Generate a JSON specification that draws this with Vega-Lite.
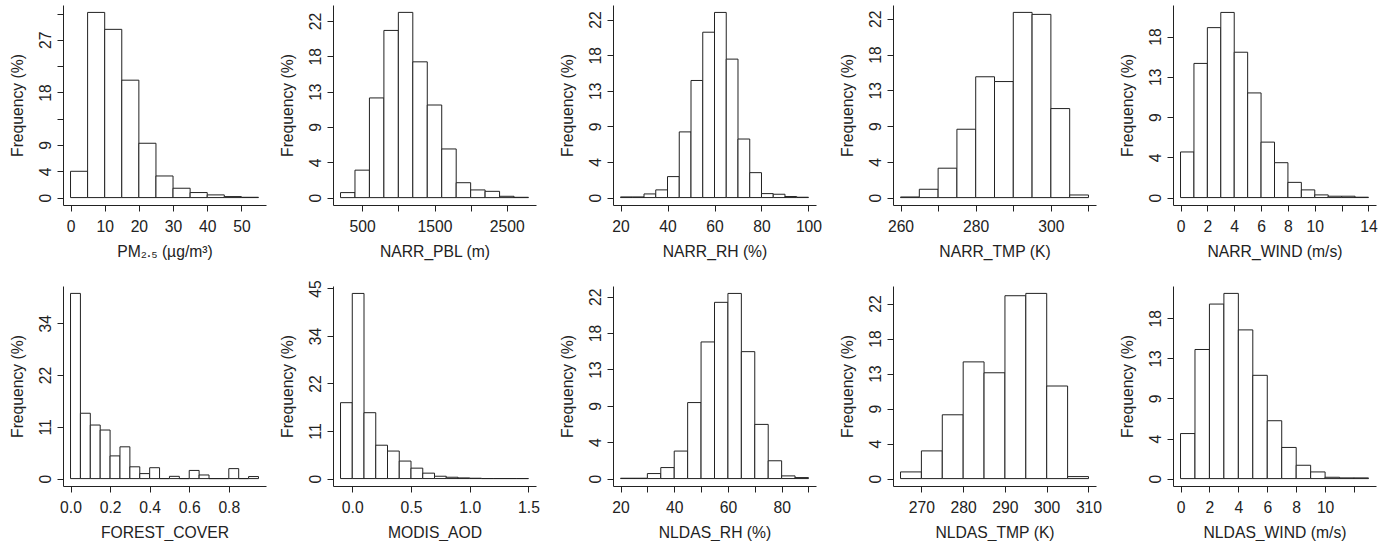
{
  "$schema": "https://vega.github.io/schema/vega-lite/v6.json",
  "background": "white",
  "padding": {"left": 9, "top": 5, "right": 5, "bottom": 0},
  "autosize": {"type": "pad"},
  "data": {"values": [
    {"v":"pm","lo":0,"hi":5,"pct":4.5},{"v":"pm","lo":5,"hi":10,"pct":31.7},{"v":"pm","lo":10,"hi":15,"pct":28.8},{"v":"pm","lo":15,"hi":20,"pct":20.1},{"v":"pm","lo":20,"hi":25,"pct":9.3},{"v":"pm","lo":25,"hi":30,"pct":3.7},{"v":"pm","lo":30,"hi":35,"pct":1.6},{"v":"pm","lo":35,"hi":40,"pct":0.86},{"v":"pm","lo":40,"hi":45,"pct":0.46},{"v":"pm","lo":45,"hi":50,"pct":0.17},{"v":"pm","lo":50,"hi":55,"pct":0.05},
    {"v":"pbl","lo":200,"hi":400,"pct":0.64},{"v":"pbl","lo":400,"hi":600,"pct":3.5},{"v":"pbl","lo":600,"hi":800,"pct":12.7},{"v":"pbl","lo":800,"hi":1000,"pct":21.3},{"v":"pbl","lo":1000,"hi":1200,"pct":23.6},{"v":"pbl","lo":1200,"hi":1400,"pct":17.3},{"v":"pbl","lo":1400,"hi":1600,"pct":11.8},{"v":"pbl","lo":1600,"hi":1800,"pct":6.2},{"v":"pbl","lo":1800,"hi":2000,"pct":1.9},{"v":"pbl","lo":2000,"hi":2200,"pct":0.98},{"v":"pbl","lo":2200,"hi":2400,"pct":0.8},{"v":"pbl","lo":2400,"hi":2600,"pct":0.17},{"v":"pbl","lo":2600,"hi":2800,"pct":0.04},
    {"v":"nrh","lo":20,"hi":25,"pct":0.08},{"v":"nrh","lo":25,"hi":30,"pct":0.08},{"v":"nrh","lo":30,"hi":35,"pct":0.46},{"v":"nrh","lo":35,"hi":40,"pct":0.97},{"v":"nrh","lo":40,"hi":45,"pct":2.65},{"v":"nrh","lo":45,"hi":50,"pct":8.3},{"v":"nrh","lo":50,"hi":55,"pct":14.8},{"v":"nrh","lo":55,"hi":60,"pct":20.9},{"v":"nrh","lo":60,"hi":65,"pct":23.4},{"v":"nrh","lo":65,"hi":70,"pct":17.5},{"v":"nrh","lo":70,"hi":75,"pct":7.4},{"v":"nrh","lo":75,"hi":80,"pct":3.15},{"v":"nrh","lo":80,"hi":85,"pct":0.5},{"v":"nrh","lo":85,"hi":90,"pct":0.42},{"v":"nrh","lo":90,"hi":95,"pct":0.13},{"v":"nrh","lo":95,"hi":100,"pct":0.04},
    {"v":"ntmp","lo":260,"hi":265,"pct":0.08},{"v":"ntmp","lo":265,"hi":270,"pct":1.05},{"v":"ntmp","lo":270,"hi":275,"pct":3.7},{"v":"ntmp","lo":275,"hi":280,"pct":8.6},{"v":"ntmp","lo":280,"hi":285,"pct":15.2},{"v":"ntmp","lo":285,"hi":290,"pct":14.6},{"v":"ntmp","lo":290,"hi":295,"pct":23.3},{"v":"ntmp","lo":295,"hi":300,"pct":23.05},{"v":"ntmp","lo":300,"hi":305,"pct":11.2},{"v":"ntmp","lo":305,"hi":310,"pct":0.33},
    {"v":"nwind","lo":0,"hi":1,"pct":5.1},{"v":"nwind","lo":1,"hi":2,"pct":15.0},{"v":"nwind","lo":2,"hi":3,"pct":19.0},{"v":"nwind","lo":3,"hi":4,"pct":20.7},{"v":"nwind","lo":4,"hi":5,"pct":16.25},{"v":"nwind","lo":5,"hi":6,"pct":11.7},{"v":"nwind","lo":6,"hi":7,"pct":6.2},{"v":"nwind","lo":7,"hi":8,"pct":3.9},{"v":"nwind","lo":8,"hi":9,"pct":1.7},{"v":"nwind","lo":9,"hi":10,"pct":0.86},{"v":"nwind","lo":10,"hi":11,"pct":0.3},{"v":"nwind","lo":11,"hi":12,"pct":0.15},{"v":"nwind","lo":12,"hi":13,"pct":0.15},{"v":"nwind","lo":13,"hi":14,"pct":0.04},
    {"v":"forest","lo":0,"hi":0.05,"pct":40.8},{"v":"forest","lo":0.05,"hi":0.1,"pct":14.4},{"v":"forest","lo":0.1,"hi":0.15,"pct":11.8},{"v":"forest","lo":0.15,"hi":0.2,"pct":10.7},{"v":"forest","lo":0.2,"hi":0.25,"pct":5.0},{"v":"forest","lo":0.25,"hi":0.3,"pct":7.0},{"v":"forest","lo":0.3,"hi":0.35,"pct":2.6},{"v":"forest","lo":0.35,"hi":0.4,"pct":1.1},{"v":"forest","lo":0.4,"hi":0.45,"pct":2.4},{"v":"forest","lo":0.45,"hi":0.5,"pct":0},{"v":"forest","lo":0.5,"hi":0.55,"pct":0.5},{"v":"forest","lo":0.55,"hi":0.6,"pct":0},{"v":"forest","lo":0.6,"hi":0.65,"pct":1.8},{"v":"forest","lo":0.65,"hi":0.7,"pct":0.8},{"v":"forest","lo":0.7,"hi":0.75,"pct":0},{"v":"forest","lo":0.75,"hi":0.8,"pct":0},{"v":"forest","lo":0.8,"hi":0.85,"pct":2.2},{"v":"forest","lo":0.85,"hi":0.9,"pct":0},{"v":"forest","lo":0.9,"hi":0.95,"pct":0.45},
    {"v":"aod","lo":-0.1,"hi":0,"pct":18.2},{"v":"aod","lo":0,"hi":0.1,"pct":44.4},{"v":"aod","lo":0.1,"hi":0.2,"pct":15.8},{"v":"aod","lo":0.2,"hi":0.3,"pct":8.0},{"v":"aod","lo":0.3,"hi":0.4,"pct":6.6},{"v":"aod","lo":0.4,"hi":0.5,"pct":4.2},{"v":"aod","lo":0.5,"hi":0.6,"pct":2.5},{"v":"aod","lo":0.6,"hi":0.7,"pct":1.3},{"v":"aod","lo":0.7,"hi":0.8,"pct":0.56},{"v":"aod","lo":0.8,"hi":0.9,"pct":0.32},{"v":"aod","lo":0.9,"hi":1.0,"pct":0.16},{"v":"aod","lo":1.0,"hi":1.1,"pct":0.08},{"v":"aod","lo":1.1,"hi":1.2,"pct":0},{"v":"aod","lo":1.2,"hi":1.3,"pct":0},{"v":"aod","lo":1.3,"hi":1.4,"pct":0},{"v":"aod","lo":1.4,"hi":1.5,"pct":0},
    {"v":"lrh","lo":20,"hi":25,"pct":0.04},{"v":"lrh","lo":25,"hi":30,"pct":0.04},{"v":"lrh","lo":30,"hi":35,"pct":0.62},{"v":"lrh","lo":35,"hi":40,"pct":1.36},{"v":"lrh","lo":40,"hi":45,"pct":3.4},{"v":"lrh","lo":45,"hi":50,"pct":9.4},{"v":"lrh","lo":50,"hi":55,"pct":16.9},{"v":"lrh","lo":55,"hi":60,"pct":21.8},{"v":"lrh","lo":60,"hi":65,"pct":22.9},{"v":"lrh","lo":65,"hi":70,"pct":15.7},{"v":"lrh","lo":70,"hi":75,"pct":6.7},{"v":"lrh","lo":75,"hi":80,"pct":2.2},{"v":"lrh","lo":80,"hi":85,"pct":0.33},{"v":"lrh","lo":85,"hi":90,"pct":0.12},
    {"v":"ltmp","lo":265,"hi":270,"pct":0.86},{"v":"ltmp","lo":270,"hi":275,"pct":3.56},{"v":"ltmp","lo":275,"hi":280,"pct":8.2},{"v":"ltmp","lo":280,"hi":285,"pct":15.0},{"v":"ltmp","lo":285,"hi":290,"pct":13.6},{"v":"ltmp","lo":290,"hi":295,"pct":23.5},{"v":"ltmp","lo":295,"hi":300,"pct":23.8},{"v":"ltmp","lo":300,"hi":305,"pct":11.9},{"v":"ltmp","lo":305,"hi":310,"pct":0.26},
    {"v":"lwind","lo":0,"hi":1,"pct":5.06},{"v":"lwind","lo":1,"hi":2,"pct":14.5},{"v":"lwind","lo":2,"hi":3,"pct":19.6},{"v":"lwind","lo":3,"hi":4,"pct":20.8},{"v":"lwind","lo":4,"hi":5,"pct":16.7},{"v":"lwind","lo":5,"hi":6,"pct":11.6},{"v":"lwind","lo":6,"hi":7,"pct":6.5},{"v":"lwind","lo":7,"hi":8,"pct":3.5},{"v":"lwind","lo":8,"hi":9,"pct":1.5},{"v":"lwind","lo":9,"hi":10,"pct":0.75},{"v":"lwind","lo":10,"hi":11,"pct":0.15},{"v":"lwind","lo":11,"hi":12,"pct":0.08},{"v":"lwind","lo":12,"hi":13,"pct":0.08}
  ]},
  "spacing": 19,
  "vconcat": [
    {"bounds": "flush", "spacing": 67, "hconcat": [
      {"width": 203, "height": 200, "transform": [{"filter": "datum.v == 'pm'"}],
       "mark": {"type": "rect", "fill": "white", "stroke": "#222", "strokeWidth": 1},
       "encoding": {
         "x": {"field": "lo", "type": "quantitative", "scale": {"domain": [-2.2, 57.2], "nice": false, "zero": false}, "axis": {"title": "PM₂.₅ (µg/m³)", "values": [0,10,20,30,40,50], "format": "d"}},
         "x2": {"field": "hi"},
         "y": {"field": "pct", "type": "quantitative", "scale": {"domain": [-1.27, 32.97], "nice": false, "zero": false}, "axis": {"title": "Frequency (%)", "values": [0,4.5,9,13.5,18,22.5,27,31.5], "labelExpr": "datum.value == 13.5 || datum.value == 22.5 || datum.value == 31.5 ? '' : '' + floor(datum.value)"}},
         "y2": {"datum": 0}}},
      {"bounds": "flush", "spacing": 77, "hconcat": [
        {"width": 203, "height": 200, "transform": [{"filter": "datum.v == 'pbl'"}],
         "mark": {"type": "rect", "fill": "white", "stroke": "#222", "strokeWidth": 1},
         "encoding": {
           "x": {"field": "lo", "type": "quantitative", "scale": {"domain": [96, 2904], "nice": false, "zero": false}, "axis": {"title": "NARR_PBL (m)", "values": [500,1000,1500,2000,2500], "format": "d", "labelExpr": "datum.value % 1000 == 0 ? '' : datum.label"}},
           "x2": {"field": "hi"},
           "y": {"field": "pct", "type": "quantitative", "scale": {"domain": [-0.94, 24.54], "nice": false, "zero": false}, "axis": {"title": "Frequency (%)", "values": [0,4.5,9,13.5,18,22.5], "labelExpr": "'' + floor(datum.value)"}},
           "y2": {"datum": 0}}},
        {"width": 203, "height": 200, "transform": [{"filter": "datum.v == 'nrh'"}],
         "mark": {"type": "rect", "fill": "white", "stroke": "#222", "strokeWidth": 1},
         "encoding": {
           "x": {"field": "lo", "type": "quantitative", "scale": {"domain": [16.8, 103.2], "nice": false, "zero": false}, "axis": {"title": "NARR_RH (%)", "values": [20,40,60,80,100], "format": "d"}},
           "x2": {"field": "hi"},
           "y": {"field": "pct", "type": "quantitative", "scale": {"domain": [-0.94, 24.34], "nice": false, "zero": false}, "axis": {"title": "Frequency (%)", "values": [0,4.5,9,13.5,18,22.5], "labelExpr": "'' + floor(datum.value)"}},
           "y2": {"datum": 0}}},
        {"width": 203, "height": 200, "transform": [{"filter": "datum.v == 'ntmp'"}],
         "mark": {"type": "rect", "fill": "white", "stroke": "#222", "strokeWidth": 1},
         "encoding": {
           "x": {"field": "lo", "type": "quantitative", "scale": {"domain": [258, 312], "nice": false, "zero": false}, "axis": {"title": "NARR_TMP (K)", "values": [260,270,280,290,300,310], "format": "d", "labelExpr": "datum.value % 20 == 0 ? datum.label : ''"}},
           "x2": {"field": "hi"},
           "y": {"field": "pct", "type": "quantitative", "scale": {"domain": [-0.93, 24.23], "nice": false, "zero": false}, "axis": {"title": "Frequency (%)", "values": [0,4.5,9,13.5,18,22.5], "labelExpr": "'' + floor(datum.value)"}},
           "y2": {"datum": 0}}},
        {"width": 203, "height": 200, "transform": [{"filter": "datum.v == 'nwind'"}],
         "mark": {"type": "rect", "fill": "white", "stroke": "#222", "strokeWidth": 1},
         "encoding": {
           "x": {"field": "lo", "type": "quantitative", "scale": {"domain": [-0.56, 14.56], "nice": false, "zero": false}, "axis": {"title": "NARR_WIND (m/s)", "values": [0,2,4,6,8,10,12,14], "format": "d", "labelExpr": "datum.value == 12 ? '' : datum.label"}},
           "x2": {"field": "hi"},
           "y": {"field": "pct", "type": "quantitative", "scale": {"domain": [-0.83, 21.53], "nice": false, "zero": false}, "axis": {"title": "Frequency (%)", "values": [0,4.5,9,13.5,18], "labelExpr": "'' + floor(datum.value)"}},
           "y2": {"datum": 0}}}
      ]}
    ]},
    {"bounds": "flush", "spacing": 67, "hconcat": [
      {"width": 203, "height": 200, "transform": [{"filter": "datum.v == 'forest'"}],
       "mark": {"type": "rect", "fill": "white", "stroke": "#222", "strokeWidth": 1},
       "encoding": {
         "x": {"field": "lo", "type": "quantitative", "scale": {"domain": [-0.038, 0.988], "nice": false, "zero": false}, "axis": {"title": "FOREST_COVER", "values": [0,0.2,0.4,0.6,0.8], "format": ".1f"}},
         "x2": {"field": "hi"},
         "y": {"field": "pct", "type": "quantitative", "scale": {"domain": [-1.63, 42.43], "nice": false, "zero": false}, "axis": {"title": "Frequency (%)", "values": [0,11.4,22.8,34.2], "labelExpr": "'' + floor(datum.value)"}},
         "y2": {"datum": 0}}},
      {"bounds": "flush", "spacing": 77, "hconcat": [
        {"width": 203, "height": 200, "transform": [{"filter": "datum.v == 'aod'"}],
         "mark": {"type": "rect", "fill": "white", "stroke": "#222", "strokeWidth": 1},
         "encoding": {
           "x": {"field": "lo", "type": "quantitative", "scale": {"domain": [-0.164, 1.564], "nice": false, "zero": false}, "axis": {"title": "MODIS_AOD", "values": [0,0.5,1,1.5], "format": ".1f"}},
           "x2": {"field": "hi"},
           "y": {"field": "pct", "type": "quantitative", "scale": {"domain": [-1.78, 46.18], "nice": false, "zero": false}, "axis": {"title": "Frequency (%)", "values": [0,11.4,22.8,34.2,45.6], "labelExpr": "'' + floor(datum.value)"}},
           "y2": {"datum": 0}}},
        {"width": 203, "height": 200, "transform": [{"filter": "datum.v == 'lrh'"}],
         "mark": {"type": "rect", "fill": "white", "stroke": "#222", "strokeWidth": 1},
         "encoding": {
           "x": {"field": "lo", "type": "quantitative", "scale": {"domain": [17.2, 92.8], "nice": false, "zero": false}, "axis": {"title": "NLDAS_RH (%)", "values": [20,30,40,50,60,70,80,90], "format": "d", "labelExpr": "datum.value % 20 == 0 ? datum.label : ''"}},
           "x2": {"field": "hi"},
           "y": {"field": "pct", "type": "quantitative", "scale": {"domain": [-0.92, 23.82], "nice": false, "zero": false}, "axis": {"title": "Frequency (%)", "values": [0,4.5,9,13.5,18,22.5], "labelExpr": "'' + floor(datum.value)"}},
           "y2": {"datum": 0}}},
        {"width": 203, "height": 200, "transform": [{"filter": "datum.v == 'ltmp'"}],
         "mark": {"type": "rect", "fill": "white", "stroke": "#222", "strokeWidth": 1},
         "encoding": {
           "x": {"field": "lo", "type": "quantitative", "scale": {"domain": [263.2, 311.8], "nice": false, "zero": false}, "axis": {"title": "NLDAS_TMP (K)", "values": [270,280,290,300,310], "format": "d"}},
           "x2": {"field": "hi"},
           "y": {"field": "pct", "type": "quantitative", "scale": {"domain": [-0.95, 24.75], "nice": false, "zero": false}, "axis": {"title": "Frequency (%)", "values": [0,4.5,9,13.5,18,22.5], "labelExpr": "'' + floor(datum.value)"}},
           "y2": {"datum": 0}}},
        {"width": 203, "height": 200, "transform": [{"filter": "datum.v == 'lwind'"}],
         "mark": {"type": "rect", "fill": "white", "stroke": "#222", "strokeWidth": 1},
         "encoding": {
           "x": {"field": "lo", "type": "quantitative", "scale": {"domain": [-0.52, 13.52], "nice": false, "zero": false}, "axis": {"title": "NLDAS_WIND (m/s)", "values": [0,2,4,6,8,10,12], "format": "d", "labelExpr": "datum.value == 12 ? '' : datum.label"}},
           "x2": {"field": "hi"},
           "y": {"field": "pct", "type": "quantitative", "scale": {"domain": [-0.83, 21.63], "nice": false, "zero": false}, "axis": {"title": "Frequency (%)", "values": [0,4.5,9,13.5,18], "labelExpr": "'' + floor(datum.value)"}},
           "y2": {"datum": 0}}}
      ]}
    ]}
  ],
  "config": {
    "view": {"stroke": null},
    "font": "Liberation Sans",
    "axis": {"grid": false, "domainColor": "#222", "tickColor": "#222", "labelColor": "#222", "titleColor": "#222", "labelFont": "Liberation Sans", "titleFont": "Liberation Sans", "labelFontSize": 15.7, "titleFontSize": 15.7, "titleFontWeight": "normal", "tickSize": 6, "domainWidth": 1, "tickWidth": 1, "labelFlush": false, "labelOverlap": false, "labelBound": false},
    "axisX": {"labelPadding": 8, "titlePadding": 11},
    "axisY": {"labelAngle": 270, "labelAlign": "center", "labelBaseline": "alphabetic", "labelPadding": 7, "titlePadding": 12}
  }
}
